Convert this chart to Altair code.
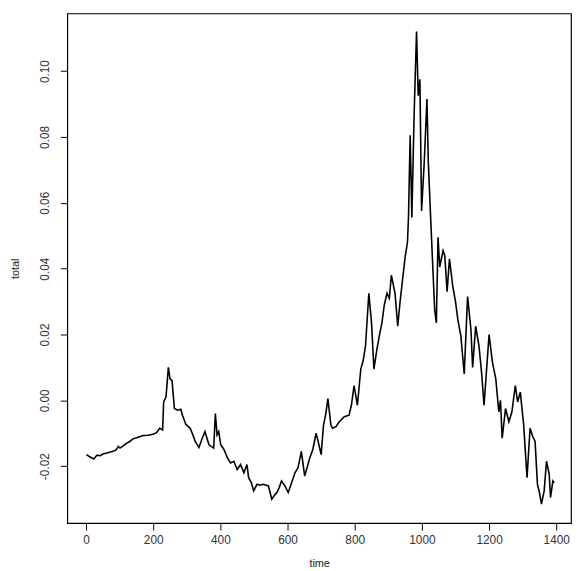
import altair as alt
import pandas as pd

time = [1, 12, 23, 32, 42, 52, 62, 72, 81, 90, 96, 101, 111, 121, 130, 140, 155, 170, 185, 199,
        210, 219, 228, 231, 238, 245, 250, 256, 263, 273, 282, 287, 297, 310, 318, 325, 336, 346,
        354, 360, 366, 380, 385, 390, 395, 401, 411, 421, 430, 440, 450, 460, 470, 479, 484, 492,
        499, 509, 518, 528, 543, 553, 560, 568, 575, 582, 592, 602, 612, 622, 631, 641, 651, 658,
        666, 675, 685, 690, 700, 707, 714, 720, 729, 734, 744, 754, 769, 783, 790, 798, 808, 818,
        825, 832, 842, 850, 857, 866, 874, 881, 888, 896, 903, 909, 915, 920, 928, 935, 940, 950,
        957, 960, 965, 970, 977, 984, 989, 994, 999, 1007, 1015, 1019, 1026, 1038, 1043, 1048,
        1053, 1058, 1063, 1068, 1075, 1082, 1092, 1100, 1107, 1116, 1126, 1136, 1146, 1151, 1160,
        1170, 1178, 1185, 1200, 1210, 1220, 1229, 1234, 1239, 1249, 1259, 1268, 1278, 1285, 1293,
        1303, 1313, 1322, 1330, 1337, 1344, 1350, 1356, 1364, 1371, 1379, 1383, 1390, 1394]

total = [-0.0165, -0.0172, -0.0178, -0.0167, -0.0168, -0.0162, -0.0160, -0.0157, -0.0155, -0.0150,
         -0.0140, -0.0145, -0.0138, -0.0130, -0.0125, -0.0117, -0.0112, -0.0107, -0.0106, -0.0103,
         -0.0098, -0.0085, -0.0090, -0.0005, 0.0010, 0.0100, 0.0065, 0.0060, -0.0025, -0.0030,
         -0.0027, -0.0045, -0.0073, -0.0085, -0.0105, -0.0125, -0.0143, -0.0115, -0.0095, -0.0115,
         -0.0135, -0.0145, -0.0040, -0.0105, -0.0095, -0.0135, -0.0150, -0.0175, -0.0190, -0.0185,
         -0.0210, -0.0195, -0.0220, -0.0195, -0.0235, -0.0250, -0.0275, -0.0255, -0.0258, -0.0255,
         -0.0260, -0.0300, -0.0290, -0.0280, -0.0265, -0.0245, -0.0260, -0.0280, -0.0250, -0.0220,
         -0.0205, -0.0155, -0.0230, -0.0205, -0.0175, -0.0150, -0.0100, -0.0120, -0.0165, -0.0075,
         -0.0040, 0.0005, -0.0075, -0.0085, -0.0080, -0.0065, -0.0050, -0.0045, -0.0015, 0.0045,
         -0.0015, 0.0095, 0.0120, 0.0165, 0.0325, 0.0235, 0.0095, 0.0155, 0.0200, 0.0235, 0.0290,
         0.0325, 0.0310, 0.0380, 0.0350, 0.0325, 0.0225, 0.0300, 0.0345, 0.0435, 0.0480, 0.0555,
         0.0805, 0.0555, 0.0875, 0.1120, 0.0925, 0.0975, 0.0575, 0.0725, 0.0915, 0.0725, 0.0555,
         0.0275, 0.0235, 0.0495, 0.0405, 0.0430, 0.0455, 0.0440, 0.0330, 0.0430, 0.0345, 0.0300,
         0.0245, 0.0195, 0.0080, 0.0315, 0.0215, 0.0100, 0.0225, 0.0165, 0.0080, -0.0015, 0.0200,
         0.0115, 0.0065, -0.0035, 0.0000, -0.0115, -0.0025, -0.0065, -0.0035, 0.0045, -0.0005,
         0.0025, -0.0075, -0.0235, -0.0085, -0.0110, -0.0125, -0.0255, -0.0280, -0.0315, -0.0275,
         -0.0185, -0.0225, -0.0295, -0.0245, -0.0250]

x_ticks = [0, 200, 400, 600, 800, 1000, 1200, 1400]
y_ticks = [-0.02, 0.0, 0.02, 0.04, 0.06, 0.08, 0.10]

df = pd.DataFrame({"time": time, "total": total})

font = "Liberation Sans"

chart = alt.Chart(df).mark_line(color="black", strokeWidth=1.6, strokeJoin="miter").encode(
    x=alt.X("time:Q",
            scale=alt.Scale(domain=[-56, 1444], nice=False, zero=False),
            axis=alt.Axis(values=x_ticks, title="time", grid=False, domain=False, format="d",
                          tickColor="black", tickSize=7, labelFontSize=12, labelColor="#333",
                          labelFont=font, labelPadding=5, titleFont=font, titleFontSize=11,
                          titleFontWeight="normal", titleColor="#222", titlePadding=12)),
    y=alt.Y("total:Q",
            scale=alt.Scale(domain=[-0.0373, 0.1175], nice=False, zero=False),
            axis=alt.Axis(values=y_ticks, title="total", grid=False, domain=False,
                          tickColor="black", tickSize=7, labelFontSize=12, labelColor="#333",
                          labelFont=font, labelAngle=270, labelPadding=9,
                          labelExpr="replace(format(datum.value, '.2f'), '\u2212', '-')",
                          titleFont=font, titleFontSize=11, titleFontWeight="normal",
                          titleColor="#222", titlePadding=18)),
).properties(
    width=510, height=516,
    autosize=alt.AutoSizeParams(type="none"),
    padding={"left": 60, "top": 2, "right": 2, "bottom": 51},
).configure_view(stroke="black", strokeWidth=1.2)

chart.save("out.html", embed_options={"renderer": "svg", "actions": False})
